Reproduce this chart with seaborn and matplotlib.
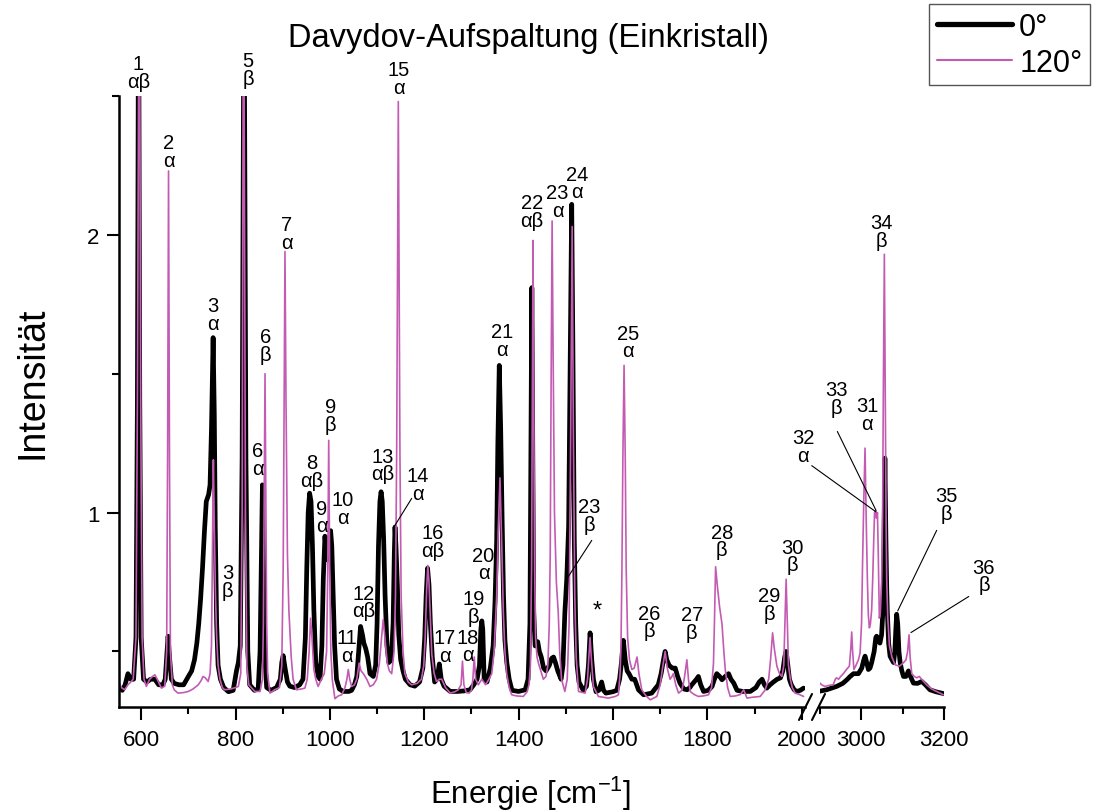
import numpy as np
import pandas as pd
import matplotlib
matplotlib.use("Agg")
import matplotlib.pyplot as plt
from matplotlib.lines import Line2D
from matplotlib.ticker import MultipleLocator, FormatStrFormatter
import seaborn as sns

# ---------------- data ----------------
# 0 deg spectrum, low-energy window
e0_low = [552, 560, 566, 572, 578, 584, 589, 592, 594.5, 597, 600, 605, 612, 620, 629, 637, 646, 651, 654, 657,
          660, 664, 670, 680, 690, 700, 707, 713, 718, 722, 726, 730, 734, 738, 743, 746, 749, 752.5, 755, 757,
          760, 763, 768, 775, 785, 795, 802, 806, 810, 814, 818, 822, 826, 830, 840, 848, 852, 855, 857, 859,
          862, 866, 875, 887, 895, 898, 901, 905, 910, 915, 925, 936, 943, 948, 951, 954, 957, 960, 963, 966,
          970, 975, 979, 983, 986, 989.5, 992.5, 995, 998, 1001.5, 1004, 1007, 1010, 1014, 1020, 1028, 1040, 1046, 1052, 1057,
          1061, 1065, 1069, 1072, 1076, 1080, 1085, 1092, 1097, 1100, 1103, 1106, 1108.5, 1111, 1114, 1117, 1121, 1125, 1130, 1134,
          1136.5, 1138, 1140, 1143, 1146, 1150, 1155, 1160, 1170, 1180, 1190, 1197, 1201, 1204, 1207, 1210, 1213, 1217, 1222, 1227,
          1232, 1236, 1242, 1255, 1270, 1285, 1297, 1305, 1312, 1317, 1320, 1322, 1324, 1327, 1333, 1340, 1346, 1350, 1353.5, 1356,
          1359, 1362, 1365, 1368, 1371, 1375, 1380, 1386, 1400, 1414, 1420, 1424, 1426, 1428, 1430, 1432, 1435, 1438, 1440.5, 1444,
          1448, 1453, 1458, 1465, 1470, 1474, 1478, 1483, 1490, 1494, 1498, 1502, 1506, 1509, 1512.5, 1515, 1518, 1521, 1524, 1528,
          1537, 1544, 1548, 1551.5, 1555, 1558.5, 1564, 1570, 1576, 1580, 1585, 1600, 1608, 1614, 1618, 1622, 1626, 1630, 1634, 1640,
          1646, 1654, 1665, 1682, 1696, 1702, 1707, 1710.5, 1714, 1719, 1726, 1732, 1737, 1742, 1750, 1757, 1763, 1767, 1772, 1777,
          1781, 1786, 1792, 1802, 1810, 1815, 1820, 1826, 1831, 1838, 1845, 1850, 1856, 1863, 1875, 1891, 1903, 1910, 1916, 1921,
          1926, 1933, 1940, 1948, 1955, 1960, 1964, 1967, 1970, 1974, 1978, 1984, 1990, 1997, 2004]
i0_low = [0.37, 0.36, 0.38, 0.42, 0.40, 0.40, 0.55, 1.40, 3.00, 1.40, 0.55, 0.40, 0.39, 0.40, 0.40, 0.38, 0.38, 0.40, 0.48, 0.555,
          0.48, 0.40, 0.385, 0.38, 0.38, 0.41, 0.43, 0.47, 0.53, 0.60, 0.69, 0.80, 0.93, 1.04, 1.065, 1.10, 1.30, 1.63, 1.35, 0.95,
          0.60, 0.45, 0.40, 0.37, 0.355, 0.36, 0.43, 0.46, 0.52, 1.20, 3.00, 1.20, 0.50, 0.38, 0.36, 0.365, 0.50, 0.85, 1.10, 0.85,
          0.48, 0.37, 0.36, 0.37, 0.40, 0.46, 0.485, 0.44, 0.39, 0.375, 0.37, 0.38, 0.40, 0.55, 0.80, 1.00, 1.07, 1.04, 0.88, 0.65,
          0.46, 0.41, 0.40, 0.52, 0.76, 0.915, 0.86, 0.83, 0.88, 0.935, 0.88, 0.70, 0.52, 0.40, 0.365, 0.356, 0.356, 0.36, 0.38, 0.41,
          0.50, 0.59, 0.56, 0.53, 0.51, 0.48, 0.42, 0.41, 0.45, 0.60, 0.88, 1.04, 1.075, 1.04, 0.90, 0.70, 0.52, 0.46, 0.47, 0.60,
          0.85, 0.948, 0.88, 0.74, 0.56, 0.47, 0.43, 0.40, 0.38, 0.375, 0.39, 0.44, 0.55, 0.70, 0.80, 0.74, 0.60, 0.48, 0.39, 0.40,
          0.455, 0.40, 0.375, 0.356, 0.356, 0.358, 0.362, 0.38, 0.40, 0.45, 0.58, 0.61, 0.58, 0.40, 0.39, 0.44, 0.52, 0.68, 0.90, 1.25,
          1.53, 1.30, 0.98, 0.70, 0.54, 0.46, 0.40, 0.36, 0.356, 0.362, 0.40, 0.60, 1.20, 1.81, 1.20, 0.64, 0.52, 0.52, 0.535, 0.50,
          0.48, 0.44, 0.43, 0.45, 0.475, 0.48, 0.46, 0.43, 0.40, 0.45, 0.64, 0.76, 0.95, 1.50, 2.11, 1.60, 0.90, 0.60, 0.45, 0.39,
          0.36, 0.375, 0.45, 0.567, 0.47, 0.40, 0.355, 0.36, 0.39, 0.36, 0.35, 0.355, 0.36, 0.40, 0.46, 0.54, 0.47, 0.43, 0.42, 0.40,
          0.40, 0.362, 0.344, 0.35, 0.38, 0.42, 0.47, 0.50, 0.47, 0.45, 0.44, 0.44, 0.41, 0.386, 0.365, 0.362, 0.37, 0.38, 0.39, 0.40,
          0.41, 0.38, 0.356, 0.36, 0.374, 0.40, 0.42, 0.41, 0.398, 0.41, 0.42, 0.40, 0.386, 0.36, 0.356, 0.356, 0.37, 0.39, 0.40, 0.38,
          0.368, 0.38, 0.39, 0.40, 0.405, 0.43, 0.48, 0.50, 0.46, 0.40, 0.38, 0.362, 0.356, 0.36, 0.368]

# 0 deg spectrum, C-H window
e0_high = [2896, 2916, 2940, 2955, 2965, 2973, 2981, 2993, 3001, 3006, 3009, 3013, 3017, 3021, 3025, 3031, 3035, 3037, 3041, 3045,
           3049, 3052, 3054.5, 3057, 3059.5, 3061.5, 3063, 3066, 3069.5, 3074, 3078, 3081, 3083.5, 3085.5, 3088, 3091, 3094, 3098, 3102, 3108,
           3114, 3119, 3126, 3136, 3146, 3155, 3166, 3180, 3194, 3200]
i0_high = [0.356, 0.362, 0.374, 0.385, 0.398, 0.41, 0.42, 0.42, 0.44, 0.47, 0.483, 0.46, 0.435, 0.44, 0.46, 0.50, 0.55, 0.555, 0.54, 0.53,
           0.56, 0.64, 0.85, 1.196, 0.90, 0.72, 0.64, 0.53, 0.483, 0.47, 0.46, 0.50, 0.58, 0.634, 0.60, 0.50, 0.459, 0.43, 0.41, 0.41,
           0.43, 0.41, 0.386, 0.385, 0.392, 0.38, 0.362, 0.355, 0.35, 0.348]

# 120 deg spectrum, low-energy window
e120_low = [552, 558, 565, 572, 578, 583, 589, 592, 596, 599, 602, 606, 611, 618, 624, 629, 634, 643, 650, 654,
            656, 658, 660, 662, 666, 670, 678, 690, 700, 710, 721, 727, 731, 736, 742, 746, 749, 751, 753, 755,
            757.5, 760, 763, 767, 772, 777, 790, 800, 806, 811, 814, 817, 821, 824, 828, 841, 852, 857, 859, 861,
            862.5, 864, 866, 868, 873, 883, 893, 898, 901, 903, 904.8, 907, 910, 913, 915, 918, 922, 929, 940, 947,
            952, 956, 959, 962, 966, 970, 975, 982, 988, 993, 995.5, 997.5, 999.5, 1002, 1005, 1010.6, 1018, 1025, 1032, 1036,
            1039, 1042, 1046, 1052, 1057, 1062, 1066, 1071, 1078, 1085, 1092, 1099, 1105, 1110, 1113, 1117, 1121.6, 1126, 1131, 1136,
            1139, 1141.5, 1143.5, 1145, 1146.5, 1148.5, 1151, 1155, 1159, 1166, 1173, 1185, 1194, 1199, 1202, 1205, 1207.5, 1210, 1213, 1216,
            1221, 1226, 1232, 1237, 1245, 1255, 1265, 1272, 1278, 1281, 1284, 1289, 1295, 1300, 1303, 1306, 1309, 1314.6, 1322, 1330,
            1337, 1343, 1348, 1353.5, 1357, 1360.5, 1364, 1367.6, 1371, 1374.7, 1380, 1385.3, 1395, 1410, 1418, 1422, 1425, 1427.5, 1429, 1430.5,
            1432, 1434, 1436, 1439, 1442, 1447, 1452.4, 1458, 1462, 1465, 1467, 1469, 1471, 1473, 1476, 1480, 1484, 1487, 1491, 1498,
            1503, 1507, 1510, 1513.5, 1516, 1519, 1522, 1527, 1541, 1546, 1549, 1551.4, 1554, 1558.5, 1569, 1590, 1605, 1611.5, 1615, 1617,
            1619, 1621, 1623.5, 1626, 1628, 1631, 1635, 1640, 1645, 1648, 1651, 1655, 1661, 1670, 1679, 1693, 1700, 1705, 1710.6, 1715,
            1721, 1725, 1728, 1733, 1739, 1746, 1751, 1756.6, 1760, 1763.6, 1772, 1781, 1792, 1802.5, 1809, 1813, 1815, 1817.5, 1821, 1826,
            1831, 1835, 1838, 1843, 1848.5, 1860, 1870, 1877, 1884, 1895, 1912, 1922, 1930, 1934, 1938.3, 1942, 1947.4, 1953, 1958, 1962,
            1964.5, 1967, 1969.5, 1972, 1976, 1980, 1986, 1995, 2004]
i120_low = [0.39, 0.37, 0.362, 0.38, 0.39, 0.40, 0.55, 1.40, 3.20, 1.40, 0.55, 0.40, 0.374, 0.40, 0.41, 0.416, 0.40, 0.368, 0.375, 0.50,
            1.20, 2.23, 1.20, 0.50, 0.38, 0.362, 0.35, 0.352, 0.356, 0.365, 0.38, 0.395, 0.41, 0.405, 0.392, 0.42, 0.52, 0.85, 1.19, 0.95,
            0.70, 0.55, 0.45, 0.40, 0.37, 0.362, 0.365, 0.37, 0.374, 0.42, 1.00, 3.20, 1.00, 0.45, 0.38, 0.356, 0.356, 0.40, 0.60, 1.10,
            1.50, 1.10, 0.60, 0.42, 0.35, 0.362, 0.37, 0.45, 0.80, 1.40, 1.94, 1.40, 0.85, 0.65, 0.58, 0.48, 0.40, 0.362, 0.365, 0.368,
            0.40, 0.50, 0.62, 0.55, 0.435, 0.40, 0.374, 0.40, 0.42, 0.50, 0.80, 1.26, 0.80, 0.50, 0.40, 0.33, 0.34, 0.344, 0.37, 0.40,
            0.435, 0.40, 0.374, 0.38, 0.40, 0.458, 0.43, 0.42, 0.40, 0.374, 0.38, 0.40, 0.46, 0.56, 0.615, 0.54, 0.458, 0.43, 0.42, 0.50,
            0.70, 1.20, 1.90, 2.48, 1.90, 1.20, 0.70, 0.50, 0.42, 0.39, 0.38, 0.385, 0.40, 0.45, 0.55, 0.72, 0.81, 0.75, 0.62, 0.49,
            0.42, 0.392, 0.40, 0.40, 0.37, 0.35, 0.355, 0.362, 0.38, 0.465, 0.38, 0.352, 0.35, 0.36, 0.40, 0.48, 0.40, 0.38, 0.40, 0.38,
            0.40, 0.42, 0.50, 0.70, 0.95, 1.125, 0.90, 0.64, 0.50, 0.42, 0.37, 0.344, 0.34, 0.338, 0.355, 0.38, 0.45, 0.80, 1.40, 1.98,
            1.40, 0.80, 0.55, 0.48, 0.458, 0.43, 0.40, 0.41, 0.45, 0.60, 0.85, 1.50, 2.05, 1.60, 1.00, 0.75, 0.64, 0.50, 0.40, 0.356,
            0.40, 0.60, 1.20, 2.03, 1.30, 0.70, 0.48, 0.356, 0.35, 0.40, 0.48, 0.55, 0.48, 0.374, 0.338, 0.332, 0.338, 0.344, 0.42, 0.52,
            0.80, 1.20, 1.53, 1.20, 0.80, 0.55, 0.47, 0.435, 0.44, 0.46, 0.48, 0.42, 0.362, 0.34, 0.326, 0.338, 0.38, 0.44, 0.50, 0.44,
            0.40, 0.41, 0.42, 0.38, 0.35, 0.36, 0.40, 0.47, 0.40, 0.356, 0.345, 0.338, 0.34, 0.344, 0.37, 0.458, 0.60, 0.805, 0.74, 0.66,
            0.60, 0.50, 0.435, 0.37, 0.338, 0.34, 0.345, 0.362, 0.332, 0.335, 0.338, 0.36, 0.40, 0.47, 0.567, 0.51, 0.447, 0.42, 0.41, 0.45,
            0.60, 0.76, 0.60, 0.45, 0.40, 0.37, 0.35, 0.345, 0.338]

# 120 deg spectrum, C-H window
e120_high = [2896, 2904, 2912, 2922, 2932, 2937, 2940, 2945, 2950, 2956.6, 2964, 2971, 2974.5, 2976.7, 2979, 2982, 2987, 2993, 2997, 3000.5,
             3003, 3006, 3009, 3011.5, 3014.6, 3017, 3019.5, 3022, 3025, 3027.5, 3030, 3032, 3034.5, 3036.5, 3039, 3041, 3043.6, 3046, 3049, 3051.5,
             3053.5, 3055.7, 3058, 3060, 3061.4, 3064, 3068, 3074, 3081.5, 3092, 3101.7, 3108, 3112, 3115.4, 3118, 3122, 3128, 3134, 3140, 3146,
             3158, 3170, 3182, 3198.4]
i120_high = [0.392, 0.38, 0.374, 0.378, 0.38, 0.40, 0.405, 0.40, 0.41, 0.42, 0.435, 0.447, 0.51, 0.57, 0.50, 0.435, 0.45, 0.47, 0.495, 0.60,
             0.82, 1.05, 1.232, 1.00, 0.76, 0.63, 0.585, 0.60, 0.65, 0.76, 0.90, 1.00, 1.008, 0.98, 1.00, 0.85, 0.62, 0.64, 0.75, 1.00,
             1.50, 1.93, 1.40, 0.95, 0.76, 0.62, 0.52, 0.48, 0.452, 0.447, 0.459, 0.47, 0.50, 0.56, 0.48, 0.42, 0.41, 0.405, 0.41, 0.40,
             0.38, 0.365, 0.356, 0.344]

series_names = ["0°", "120°"]

# peak labels (number \n symmetry), positions in data units, window L/R
ann_text = ["1\nαβ", "2\nα", "3\nα", "3\nβ", "5\nβ", "6\nβ", "6\nα", "7\nα", "8\nαβ", "9\nβ", "9\nα", "10\nα",
            "11\nα", "12\nαβ", "13\nαβ", "14\nα", "15\nα", "16\nαβ", "17\nα", "18\nα", "19\nβ", "20\nα", "21\nα",
            "22\nαβ", "23\nα", "24\nα", "23\nβ", "*", "25\nα", "26\nβ", "27\nβ", "28\nβ", "29\nβ", "30\nβ",
            "32\nα", "33\nβ", "31\nα", "34\nβ", "35\nβ", "36\nβ"]
ann_x = [593.8, 658.5, 751.9, 783.0, 827.0, 864.3, 847.3, 908.8, 961.2, 1001.5, 983.0, 1028.0,
         1036.7, 1072.0, 1111.8, 1186.0, 1146.4, 1217.8, 1244.0, 1292.0, 1304.0, 1325.6, 1364.8,
         1428.4, 1482.5, 1524.0, 1550.0, 1566.3, 1632.0, 1676.6, 1767.0, 1830.8, 1931.0, 1980.5,
         2859.7, 2940.5, 3014.5, 3048.6, 3206.0, 3296.5]
ann_y = [2.585, 2.30, 1.713, 0.751, 2.594, 1.603, 1.191, 2.004, 1.147, 1.349, 0.984, 1.016,
         0.519, 0.678, 1.171, 1.102, 2.562, 0.897, 0.518, 0.520, 0.659, 0.815, 1.62,
         2.085, 2.121, 2.187, 0.990, 0.646, 1.614, 0.606, 0.600, 0.898, 0.669, 0.844,
         1.238, 1.41, 1.353, 2.013, 1.03, 0.772]
ann_win = ["L"] * 34 + ["R"] * 6

# leader lines: (x_text, y_text) -> (x_peak, y_peak)
lead_x0 = [1173.3, 1555.0, 2880.0, 2942.0, 3182.3, 3260.0]
lead_y0 = [1.051, 0.900, 1.169, 1.292, 0.936, 0.698]
lead_x1 = [1135.7, 1502.0, 3035.5, 3035.5, 3088.0, 3120.0]
lead_y1 = [0.948, 0.761, 1.0025, 1.008, 0.646, 0.568]
lead_win = ["L", "L", "R", "R", "R", "R"]

# ---------------- build table ----------------
frames = []
for name, seg, xs, ys in [("0°", "low", e0_low, i0_low), ("0°", "high", e0_high, i0_high),
                          ("120°", "low", e120_low, i120_low), ("120°", "high", e120_high, i120_high)]:
    frames.append(pd.DataFrame({"Energie": xs, "Intensität": ys, "Winkel": name, "Abschnitt": seg}))
df = pd.concat(frames, ignore_index=True)

# ---------------- style ----------------
sns.set_style("ticks")
plt.rcParams["font.family"] = ["Liberation Sans", "DejaVu Sans"]
plt.rcParams["mathtext.fontset"] = "custom"
plt.rcParams["mathtext.rm"] = "Liberation Sans"
for key in ("text.color", "axes.labelcolor", "xtick.color", "ytick.color", "axes.edgecolor"):
    plt.rcParams[key] = "black"

PINK = "#C35BB3"
palette = {"0°": "black", "120°": PINK}
widths = {"0°": 3.4, "120°": 1.2}

fig = plt.figure(figsize=(10.94, 8.12), dpi=100)
axL = fig.add_axes([119 / 1094, 1 - 708 / 812, 686 / 1094, 611 / 812])
axR = fig.add_axes([820 / 1094, 1 - 708 / 812, 124 / 1094, 611 / 812], sharey=axL)

for ax in (axL, axR):
    sns.lineplot(data=df, x="Energie", y="Intensität", hue="Winkel", hue_order=series_names,
                 size="Winkel", sizes=widths, palette=palette, units="Abschnitt",
                 estimator=None, sort=False, legend=False, ax=ax)
    ax.set_xlabel("")
    ax.set_ylabel("")
    for s in ("top", "right"):
        ax.spines[s].set_visible(False)
    for s in ("left", "bottom"):
        ax.spines[s].set_linewidth(1.8)
        ax.spines[s].set_color("black")
    ax.tick_params(which="major", direction="out", length=9, width=1.5, labelsize=16, pad=5, colors="black")
    ax.tick_params(axis="x", which="major", pad=7)
    ax.tick_params(which="minor", direction="out", length=5, width=1.5, colors="black")
    ax.xaxis.set_major_locator(MultipleLocator(200))
    ax.xaxis.set_minor_locator(MultipleLocator(100))
    ax.xaxis.set_major_formatter(FormatStrFormatter("%d"))

axL.set_xlim(553, 2007)
axR.set_xlim(2900, 3200)
axL.set_ylim(0.3, 2.5)
axL.yaxis.set_major_locator(MultipleLocator(1))
axL.yaxis.set_minor_locator(MultipleLocator(0.5))
axL.yaxis.set_major_formatter(FormatStrFormatter("%g"))
axR.spines["left"].set_visible(False)
axR.tick_params(axis="y", which="both", left=False, labelleft=False)

# annotations
for t, x, y, w in zip(ann_text, ann_x, ann_y, ann_win):
    ax = axL if w == "L" else axR
    fs = 17 if t == "*" else 14.5
    ax.text(x, y, t, ha="center", va="center", fontsize=fs, linespacing=0.92, clip_on=False, color="black")

for x0, y0, x1, y1, w in zip(lead_x0, lead_y0, lead_x1, lead_y1, lead_win):
    ax = axL if w == "L" else axR
    ax.annotate("", xy=(x1, y1), xytext=(x0, y0), annotation_clip=False,
                arrowprops=dict(arrowstyle="-", color="black", lw=0.8, shrinkA=0, shrinkB=0))

# axis break marks
for xa, xb in [(799, 812), (812, 825)]:
    fig.add_artist(Line2D([xa / 1094, xb / 1094], [1 - 721 / 812, 1 - 695 / 812],
                          transform=fig.transFigure, color="black", lw=1.5))

# texts
fig.text(528 / 1094, 1 - 38 / 812, "Davydov-Aufspaltung (Einkristall)", ha="center", va="center", fontsize=23.5)
fig.text(531 / 1094, 1 - 794 / 812, "Energie [cm$\\mathregular{^{-1}}$]", ha="center", va="center", fontsize=22.5)
fig.text(33 / 1094, 1 - 383 / 812, "Intensität", ha="center", va="center", rotation=90, fontsize=27)

handles = [Line2D([], [], color="black", lw=3.8), Line2D([], [], color=PINK, lw=1.5)]
leg = fig.legend(handles, series_names, loc="upper left", bbox_to_anchor=(929 / 1094, 1 - 5 / 812),
                 fontsize=22, frameon=True, fancybox=False, edgecolor="#555555", framealpha=1,
                 handlelength=2.45, handletextpad=0.25, labelspacing=0.2, borderpad=0.25, borderaxespad=0)
leg.get_frame().set_linewidth(1.0)

fig.savefig("out.png", dpi=100)
